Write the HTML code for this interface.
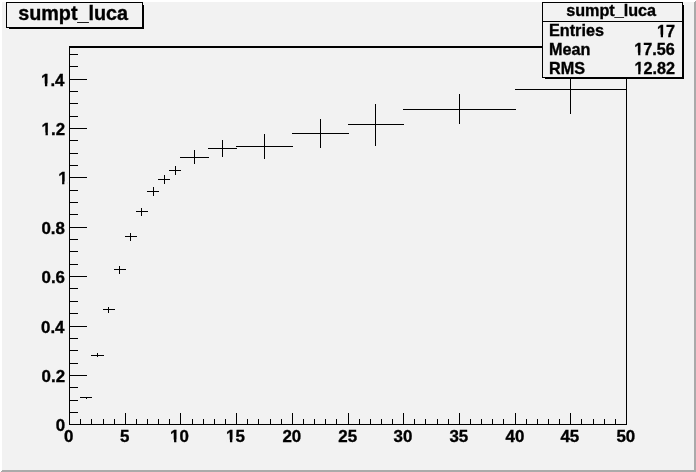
<!DOCTYPE html>
<html><head><meta charset="utf-8"><style>
html,body{margin:0;padding:0;background:#f2f2f2;}
svg{display:block;will-change:transform;}
text{font-family:"Liberation Sans",sans-serif;font-weight:bold;fill:#000;stroke:#000;stroke-width:0.35px;font-kerning:none;}
</style></head><body>
<svg width="696" height="472" viewBox="0 0 696 472" shape-rendering="crispEdges">
<rect x="0" y="0" width="696" height="472" fill="#f2f2f2"/>
<polygon points="0,0 696,0 694,2 2,2 2,470 0,472" fill="#ffffff"/>
<polygon points="696,0 696,472 0,472 2,470 694,470 694,2" fill="#aaaaaa"/>
<rect x="69" y="424" width="558" height="1" fill="#000"/>
<rect x="69" y="46" width="558" height="1" fill="#000"/>
<rect x="69" y="47" width="558" height="1" fill="#000"/>
<rect x="69" y="46" width="1" height="379" fill="#000"/>
<rect x="626" y="46" width="1" height="379" fill="#000"/>
<rect x="69" y="413" width="1" height="12" fill="#000"/>
<rect x="80" y="419" width="1" height="6" fill="#000"/>
<rect x="91" y="419" width="1" height="6" fill="#000"/>
<rect x="103" y="419" width="1" height="6" fill="#000"/>
<rect x="114" y="419" width="1" height="6" fill="#000"/>
<rect x="125" y="413" width="1" height="12" fill="#000"/>
<rect x="136" y="419" width="1" height="6" fill="#000"/>
<rect x="147" y="419" width="1" height="6" fill="#000"/>
<rect x="158" y="419" width="1" height="6" fill="#000"/>
<rect x="169" y="419" width="1" height="6" fill="#000"/>
<rect x="180" y="413" width="1" height="12" fill="#000"/>
<rect x="192" y="419" width="1" height="6" fill="#000"/>
<rect x="203" y="419" width="1" height="6" fill="#000"/>
<rect x="214" y="419" width="1" height="6" fill="#000"/>
<rect x="225" y="419" width="1" height="6" fill="#000"/>
<rect x="236" y="413" width="1" height="12" fill="#000"/>
<rect x="247" y="419" width="1" height="6" fill="#000"/>
<rect x="258" y="419" width="1" height="6" fill="#000"/>
<rect x="270" y="419" width="1" height="6" fill="#000"/>
<rect x="281" y="419" width="1" height="6" fill="#000"/>
<rect x="292" y="413" width="1" height="12" fill="#000"/>
<rect x="303" y="419" width="1" height="6" fill="#000"/>
<rect x="314" y="419" width="1" height="6" fill="#000"/>
<rect x="325" y="419" width="1" height="6" fill="#000"/>
<rect x="336" y="419" width="1" height="6" fill="#000"/>
<rect x="348" y="413" width="1" height="12" fill="#000"/>
<rect x="359" y="419" width="1" height="6" fill="#000"/>
<rect x="370" y="419" width="1" height="6" fill="#000"/>
<rect x="381" y="419" width="1" height="6" fill="#000"/>
<rect x="392" y="419" width="1" height="6" fill="#000"/>
<rect x="403" y="413" width="1" height="12" fill="#000"/>
<rect x="414" y="419" width="1" height="6" fill="#000"/>
<rect x="425" y="419" width="1" height="6" fill="#000"/>
<rect x="437" y="419" width="1" height="6" fill="#000"/>
<rect x="448" y="419" width="1" height="6" fill="#000"/>
<rect x="459" y="413" width="1" height="12" fill="#000"/>
<rect x="470" y="419" width="1" height="6" fill="#000"/>
<rect x="481" y="419" width="1" height="6" fill="#000"/>
<rect x="492" y="419" width="1" height="6" fill="#000"/>
<rect x="503" y="419" width="1" height="6" fill="#000"/>
<rect x="515" y="413" width="1" height="12" fill="#000"/>
<rect x="526" y="419" width="1" height="6" fill="#000"/>
<rect x="537" y="419" width="1" height="6" fill="#000"/>
<rect x="548" y="419" width="1" height="6" fill="#000"/>
<rect x="559" y="419" width="1" height="6" fill="#000"/>
<rect x="570" y="413" width="1" height="12" fill="#000"/>
<rect x="581" y="419" width="1" height="6" fill="#000"/>
<rect x="593" y="419" width="1" height="6" fill="#000"/>
<rect x="604" y="419" width="1" height="6" fill="#000"/>
<rect x="615" y="419" width="1" height="6" fill="#000"/>
<rect x="626" y="413" width="1" height="12" fill="#000"/>
<rect x="69" y="424" width="18" height="1" fill="#000"/>
<rect x="69" y="412" width="9" height="1" fill="#000"/>
<rect x="69" y="400" width="9" height="1" fill="#000"/>
<rect x="69" y="387" width="9" height="1" fill="#000"/>
<rect x="69" y="375" width="18" height="1" fill="#000"/>
<rect x="69" y="363" width="9" height="1" fill="#000"/>
<rect x="69" y="350" width="9" height="1" fill="#000"/>
<rect x="69" y="338" width="9" height="1" fill="#000"/>
<rect x="69" y="326" width="18" height="1" fill="#000"/>
<rect x="69" y="313" width="9" height="1" fill="#000"/>
<rect x="69" y="301" width="9" height="1" fill="#000"/>
<rect x="69" y="288" width="9" height="1" fill="#000"/>
<rect x="69" y="276" width="18" height="1" fill="#000"/>
<rect x="69" y="264" width="9" height="1" fill="#000"/>
<rect x="69" y="251" width="9" height="1" fill="#000"/>
<rect x="69" y="239" width="9" height="1" fill="#000"/>
<rect x="69" y="227" width="18" height="1" fill="#000"/>
<rect x="69" y="214" width="9" height="1" fill="#000"/>
<rect x="69" y="202" width="9" height="1" fill="#000"/>
<rect x="69" y="190" width="9" height="1" fill="#000"/>
<rect x="69" y="177" width="18" height="1" fill="#000"/>
<rect x="69" y="165" width="9" height="1" fill="#000"/>
<rect x="69" y="153" width="9" height="1" fill="#000"/>
<rect x="69" y="140" width="9" height="1" fill="#000"/>
<rect x="69" y="128" width="18" height="1" fill="#000"/>
<rect x="69" y="116" width="9" height="1" fill="#000"/>
<rect x="69" y="103" width="9" height="1" fill="#000"/>
<rect x="69" y="91" width="9" height="1" fill="#000"/>
<rect x="69" y="79" width="18" height="1" fill="#000"/>
<rect x="69" y="66" width="9" height="1" fill="#000"/>
<rect x="69" y="54" width="9" height="1" fill="#000"/>
<rect x="80" y="397" width="12" height="1" fill="#000"/>
<rect x="86" y="398" width="1" height="1" fill="#000"/>
<rect x="91" y="355" width="13" height="1" fill="#000"/>
<rect x="97" y="353" width="1" height="4" fill="#000"/>
<rect x="103" y="309" width="12" height="1" fill="#000"/>
<rect x="108" y="307" width="1" height="6" fill="#000"/>
<rect x="114" y="269" width="12" height="1" fill="#000"/>
<rect x="119" y="266" width="1" height="8" fill="#000"/>
<rect x="125" y="236" width="12" height="1" fill="#000"/>
<rect x="130" y="233" width="1" height="8" fill="#000"/>
<rect x="136" y="211" width="12" height="1" fill="#000"/>
<rect x="141" y="208" width="1" height="8" fill="#000"/>
<rect x="147" y="191" width="12" height="1" fill="#000"/>
<rect x="153" y="187" width="1" height="9" fill="#000"/>
<rect x="158" y="179" width="12" height="1" fill="#000"/>
<rect x="164" y="175" width="1" height="9" fill="#000"/>
<rect x="169" y="170" width="12" height="1" fill="#000"/>
<rect x="175" y="166" width="1" height="9" fill="#000"/>
<rect x="180" y="157" width="29" height="1" fill="#000"/>
<rect x="194" y="150" width="1" height="14" fill="#000"/>
<rect x="208" y="148" width="29" height="1" fill="#000"/>
<rect x="222" y="140" width="1" height="17" fill="#000"/>
<rect x="236" y="146" width="57" height="1" fill="#000"/>
<rect x="264" y="134" width="1" height="25" fill="#000"/>
<rect x="292" y="133" width="57" height="1" fill="#000"/>
<rect x="320" y="119" width="1" height="29" fill="#000"/>
<rect x="348" y="124" width="56" height="1" fill="#000"/>
<rect x="375" y="104" width="1" height="42" fill="#000"/>
<rect x="403" y="109" width="113" height="1" fill="#000"/>
<rect x="459" y="94" width="1" height="30" fill="#000"/>
<rect x="515" y="89" width="112" height="1" fill="#000"/>
<rect x="570" y="65" width="1" height="49" fill="#000"/>
<text x="64.06" y="441.6" font-size="16.9">0</text>
<text x="120.03" y="441.6" font-size="16.9">5</text>
<text x="170.12" y="441.6" font-size="16.9">10</text>
<text x="226.01" y="441.6" font-size="16.9">15</text>
<text x="282.40" y="441.6" font-size="16.9">20</text>
<text x="338.29" y="441.6" font-size="16.9">25</text>
<text x="393.50" y="441.6" font-size="16.9">30</text>
<text x="449.39" y="441.6" font-size="16.9">35</text>
<text x="505.57" y="441.6" font-size="16.9">40</text>
<text x="560.46" y="441.6" font-size="16.9">45</text>
<text x="616.44" y="441.6" font-size="16.9">50</text>
<text x="55.69" y="430.6" font-size="16.9">0</text>
<text x="41.58" y="381.6" font-size="16.9">0.2</text>
<text x="41.00" y="332.6" font-size="16.9">0.4</text>
<text x="41.52" y="282.6" font-size="16.9">0.6</text>
<text x="41.43" y="233.6" font-size="16.9">0.8</text>
<text x="58.14" y="183.6" font-size="16.9">1</text>
<text x="41.58" y="134.6" font-size="16.9">1.2</text>
<text x="41.00" y="85.6" font-size="16.9">1.4</text>
<rect x="9" y="28" width="135" height="1" fill="#000"/>
<rect x="143" y="5" width="1" height="24" fill="#000"/>
<rect x="6" y="2" width="137" height="26" fill="#f2f2f2"/>
<rect x="6" y="2" width="137" height="1" fill="#000"/>
<rect x="6" y="27" width="137" height="1" fill="#000"/>
<rect x="6" y="2" width="1" height="26" fill="#000"/>
<rect x="142" y="2" width="1" height="26" fill="#000"/>
<text x="18.17" y="19.8" font-size="19.8">sumpt_luca</text>
<rect x="545" y="78" width="139" height="1" fill="#000"/>
<rect x="683" y="5" width="1" height="74" fill="#000"/>
<rect x="542" y="2" width="141" height="76" fill="#f2f2f2"/>
<rect x="542" y="2" width="141" height="1" fill="#000"/>
<rect x="542" y="77" width="141" height="1" fill="#000"/>
<rect x="542" y="2" width="1" height="76" fill="#000"/>
<rect x="682" y="2" width="1" height="76" fill="#000"/>
<rect x="542" y="21" width="141" height="1" fill="#000"/>
<text x="566.15" y="15.8" font-size="16.2">sumpt_luca</text>
<text x="549.02" y="35.7" font-size="16.2">Entries</text>
<text x="656.99" y="36.6" font-size="16.2">17</text>
<text x="549.02" y="54.6" font-size="16.2">Mean</text>
<text x="634.35" y="54.6" font-size="16.2">17.56</text>
<text x="549.02" y="73.6" font-size="16.2">RMS</text>
<text x="634.41" y="73.6" font-size="16.2">12.82</text>
<rect x="170.18" y="439.58" width="3.88" height="4.02" fill="#f2f2f2" shape-rendering="geometricPrecision"/>
<rect x="176.38" y="439.58" width="3.47" height="4.02" fill="#f2f2f2" shape-rendering="geometricPrecision"/>
<rect x="226.07" y="439.58" width="3.88" height="4.02" fill="#f2f2f2" shape-rendering="geometricPrecision"/>
<rect x="232.27" y="439.58" width="3.47" height="4.02" fill="#f2f2f2" shape-rendering="geometricPrecision"/>
<rect x="58.20" y="181.58" width="3.88" height="4.02" fill="#f2f2f2" shape-rendering="geometricPrecision"/>
<rect x="64.40" y="181.58" width="3.47" height="4.02" fill="#f2f2f2" shape-rendering="geometricPrecision"/>
<rect x="41.65" y="132.58" width="3.88" height="4.02" fill="#f2f2f2" shape-rendering="geometricPrecision"/>
<rect x="47.85" y="132.58" width="3.47" height="4.02" fill="#f2f2f2" shape-rendering="geometricPrecision"/>
<rect x="41.06" y="83.58" width="3.88" height="4.02" fill="#f2f2f2" shape-rendering="geometricPrecision"/>
<rect x="47.26" y="83.58" width="3.47" height="4.02" fill="#f2f2f2" shape-rendering="geometricPrecision"/>
<rect x="657.01" y="34.65" width="3.76" height="3.95" fill="#f2f2f2" shape-rendering="geometricPrecision"/>
<rect x="663.00" y="34.65" width="3.35" height="3.95" fill="#f2f2f2" shape-rendering="geometricPrecision"/>
<rect x="634.37" y="52.65" width="3.76" height="3.95" fill="#f2f2f2" shape-rendering="geometricPrecision"/>
<rect x="640.35" y="52.65" width="3.35" height="3.95" fill="#f2f2f2" shape-rendering="geometricPrecision"/>
<rect x="634.43" y="71.65" width="3.76" height="3.95" fill="#f2f2f2" shape-rendering="geometricPrecision"/>
<rect x="640.41" y="71.65" width="3.35" height="3.95" fill="#f2f2f2" shape-rendering="geometricPrecision"/>
</svg>
</body></html>
